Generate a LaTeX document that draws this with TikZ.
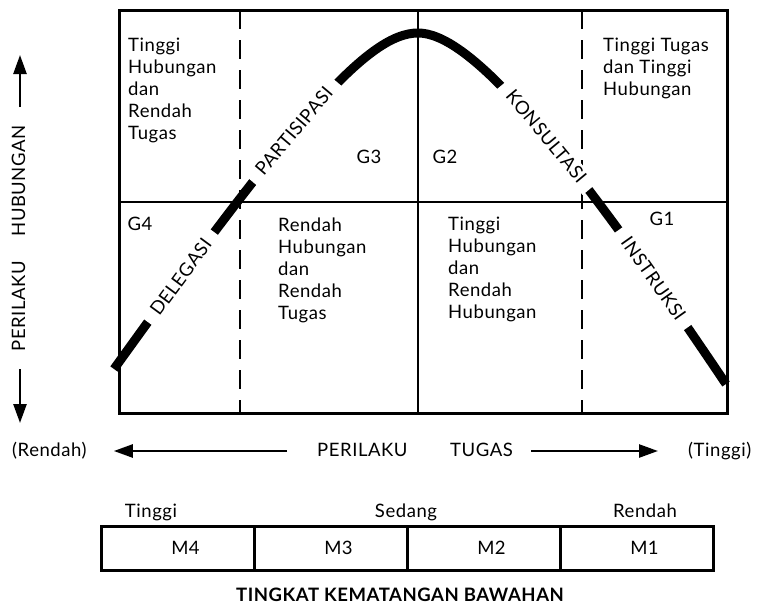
\documentclass[tikz,border=0pt]{standalone}
\usepackage{fontspec}
\setmainfont{Lato}[LetterSpace=3]
\usetikzlibrary{arrows.meta}
\newcommand{\diagfont}{\fontsize{18.5}{22}\selectfont}

\begin{document}
\begin{tikzpicture}[x=1pt, y=-1pt,
  every node/.style={font=\diagfont, inner sep=0pt},
  quadtext/.style={anchor=north west, align=left},
  axislabel/.style={text height=13pt, text depth=3pt},
  curvelabel/.style={fill=white, sloped, text height=13pt, text depth=0pt, inner xsep=11pt, inner ysep=3pt},
  axisarrow/.style={line width=2.5pt, -{Triangle[length=19pt,width=13pt]}},
  gridline/.style={line width=2.5pt},
  dashline/.style={line width=2.5pt, dash pattern=on 19pt off 11pt},
  mbox/.style={draw, line width=3pt, outer sep=0pt, minimum width=153pt, minimum height=44pt},
  mlabel/.style={xshift=8pt}]
  \useasboundingbox (0,0) rectangle (758,605);
  \draw[gridline] (119,202) -- (727,202);
  \draw[gridline] (418,10) -- (418,413);
  \draw[dashline] (240,10) -- (240,413);
  \draw[dashline] (582,10) -- (582,413);
  \draw[line width=3pt] (119,10) rectangle (727,413);
  \node[quadtext] (tlq) at (128,38) {Tinggi\\Hubungan\\dan\\Rendah\\Tugas};
  \node[quadtext] (trq) at (603,38) {Tinggi Tugas\\dan Tinggi\\Hubungan};
  \node[quadtext] (blq) at (278,218) {Rendah\\Hubungan\\dan\\Rendah\\Tugas};
  \node[quadtext] (brq) at (448,217) {Tinggi\\Hubungan\\dan\\Rendah\\Hubungan};
  \node (g4) at (140,224) {G4};
  \node (g3) at (369,157) {G3};
  \node (g2) at (445,157) {G2};
  \node (g1) at (662,219) {G1};
  \draw[line width=9pt] (114,369) .. controls (300,110) and (370,33) .. (418,33)
      node[curvelabel, pos=0.13] (delegasi) {DELEGASI}
      node[curvelabel, pos=0.42] (partisipasi) {PARTISIPASI}
    .. controls (466,33) and (552,125) .. (726,384)
      node[curvelabel, pos=0.57] (konsultasi) {KONSULTASI}
      node[curvelabel, pos=0.85] (instruksi) {INSTRUKSI};
  \node[axislabel, rotate=90] (hub) at (20,181) {HUBUNGAN};
  \node[axislabel, rotate=90] (perv) at (20,306) {PERILAKU};
  \coordinate (uptip) at (20,55);
  \coordinate (downtip) at (20,423);
  \draw[axisarrow] (hub.east) ++(0,-18) -- (uptip);
  \draw[axisarrow] (perv.west) ++(0,18) -- (downtip);
  \node[axislabel, anchor=west] (rendah) at (12,451) {(Rendah)};
  \node[axislabel, anchor=west] (perh) at (317,451) {PERILAKU};
  \node[axislabel, anchor=west] (tugas) at (450,451) {TUGAS};
  \node[axislabel, anchor=west] (tinggi) at (688,451) {(Tinggi)};
  \draw[axisarrow] ([xshift=-30pt]perh.west) -- ([xshift=27pt]rendah.east);
  \draw[axisarrow] ([xshift=18pt]tugas.east) -- ([xshift=-30pt]tinggi.west);
  \node[anchor=base] (lvltinggi) at (151,517) {Tinggi};
  \node[anchor=base] (lvlsedang) at (406,517) {Sedang};
  \node[anchor=base] (lvlrendah) at (645,517) {Rendah};
  \node[mbox, anchor=west, label={[mlabel]center:M4}] (m4) at (101,548) {};
  \node[mbox, anchor=west, label={[mlabel]center:M3}] (m3) at (m4.east) {};
  \node[mbox, anchor=west, label={[mlabel]center:M2}] (m2) at (m3.east) {};
  \node[mbox, anchor=west, label={[mlabel]center:M1}] (m1) at (m2.east) {};
  \node[anchor=base, font=\diagfont\bfseries] (title) at (400,601) {TINGKAT KEMATANGAN BAWAHAN};
\end{tikzpicture}
\end{document}
